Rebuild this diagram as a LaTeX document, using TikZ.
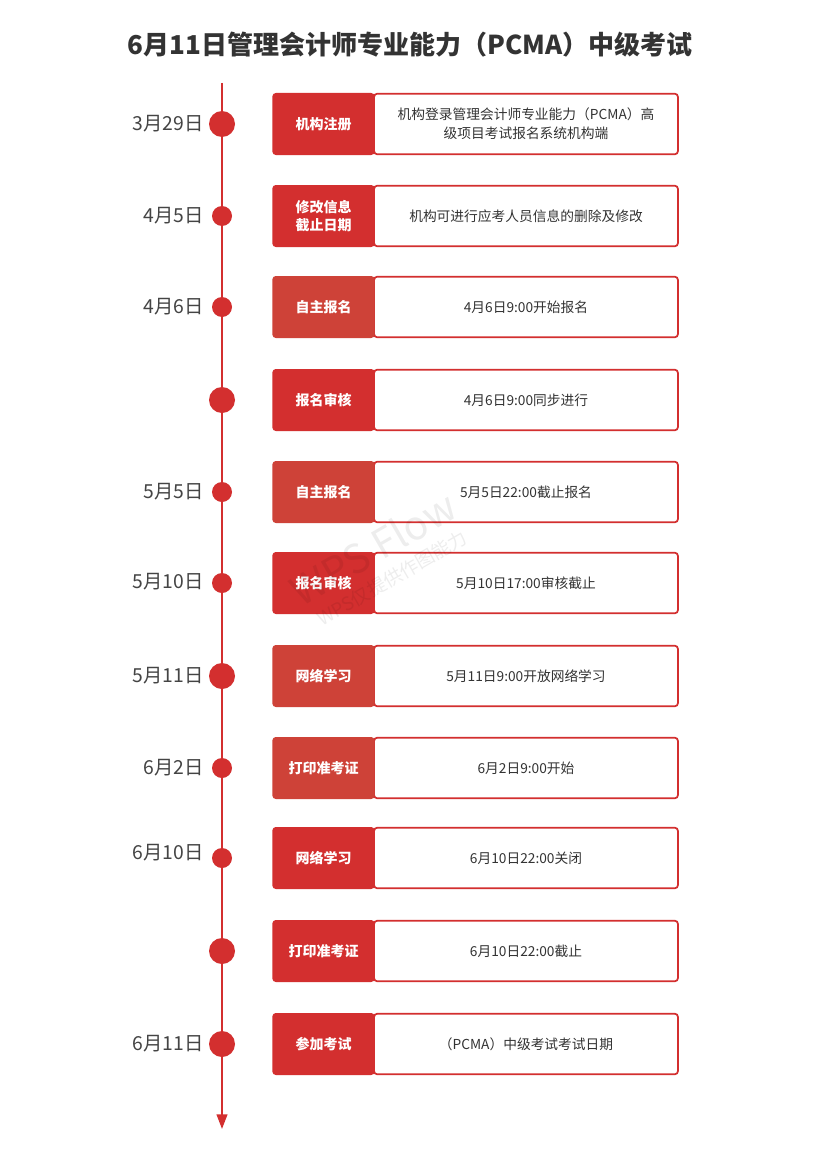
\documentclass[tikz,border=0pt]{standalone}
\usepackage{fontspec}
\setmainfont{Noto Sans CJK SC}
\usetikzlibrary{arrows.meta}
\definecolor{redA}{HTML}{D32F2F}
\definecolor{redB}{HTML}{CE4238}
\definecolor{txt}{HTML}{333333}
\definecolor{datec}{HTML}{444444}
\begin{document}
\begin{tikzpicture}[x=0.75pt,y=-0.75pt,
  labbox/.style={draw=#1, fill=#1, line width=1pt, rounded corners=2.2pt,
    minimum width=75.75pt, minimum height=45.5pt, inner sep=0pt, text=white,
    align=center, font=\bfseries\fontsize{10.5}{14}\selectfont},
  txtbox/.style={draw=redA, fill=white, line width=1.3pt, rounded corners=2.5pt,
    minimum width=228pt, minimum height=45.5pt, inner sep=0pt, text=txt,
    align=center, font=\fontsize{10.3}{14}\selectfont},
  dot/.style={circle, fill=redA, inner sep=0pt, minimum size=#1},
  datelab/.style={anchor=east, text=datec, font=\fontsize{14.5}{16}\selectfont, inner sep=0pt},
  timeline/.style={draw=redA, line width=1.5pt},
  wm/.style={text=black, text opacity=0.07, rotate=30, inner sep=0pt}]
\useasboundingbox (0,0) rectangle (820,1149);
\fill[white] (0,0) rectangle (820,1149);
% title
\node[font=\bfseries\fontsize{19.5}{22}\selectfont, text=txt] (title) at (410,45) {6月11日管理会计师专业能力（PCMA）中级考试};
% timeline
\coordinate (top) at (222,83);
\coordinate (bot) at (222,1129);
\draw[timeline, -{Triangle[length=11pt,width=8pt]}] (top) -- (bot);
% rows
\foreach \i/\y/\r/\dy/\d/\l/\t/\c in {
 1/124/19.5pt/124/3月29日/机构注册/{机构登录管理会计师专业能力（PCMA）高\\级项目考试报名系统机构端}/redA,
 2/216/15pt/216/4月5日/{修改信息\\截止日期}/机构可进行应考人员信息的删除及修改/redA,
 3/307/15pt/307/4月6日/自主报名/4月6日9:00开始报名/redB,
 4/400/19.5pt/400//报名审核/4月6日9:00同步进行/redA,
 5/492/15pt/492/5月5日/自主报名/5月5日22:00截止报名/redB,
 6/583/15pt/582/5月10日/报名审核/5月10日17:00审核截止/redA,
 7/676/19.5pt/676/5月11日/网络学习/5月11日9:00开放网络学习/redB,
 8/768/15pt/768/6月2日/打印准考证/6月2日9:00开始/redB,
 9/858/15pt/853/6月10日/网络学习/6月10日22:00关闭/redA,
 10/951/19.5pt/951//打印准考证/6月10日22:00截止/redA,
 11/1044/19.5pt/1044/6月11日/参加考试/（PCMA）中级考试考试日期/redA}{
  \node[dot=\r] (c\i) at (222,\y) {};
  \node[datelab] (d\i) at (204,\dy) {\d};
  \node[txtbox] (t\i) at (526,\y) {\t};
  \node[labbox=\c] (l\i) at (323.5,\y) {\l};
}
% watermark
\node[wm, font=\fontsize{30}{32}\selectfont] (wm1) at (373,548) {WPS Flow};
\node[wm, font=\fontsize{14}{16}\selectfont] (wm2) at (392,578) {WPS仅提供作图能力};
\end{tikzpicture}
\end{document}
